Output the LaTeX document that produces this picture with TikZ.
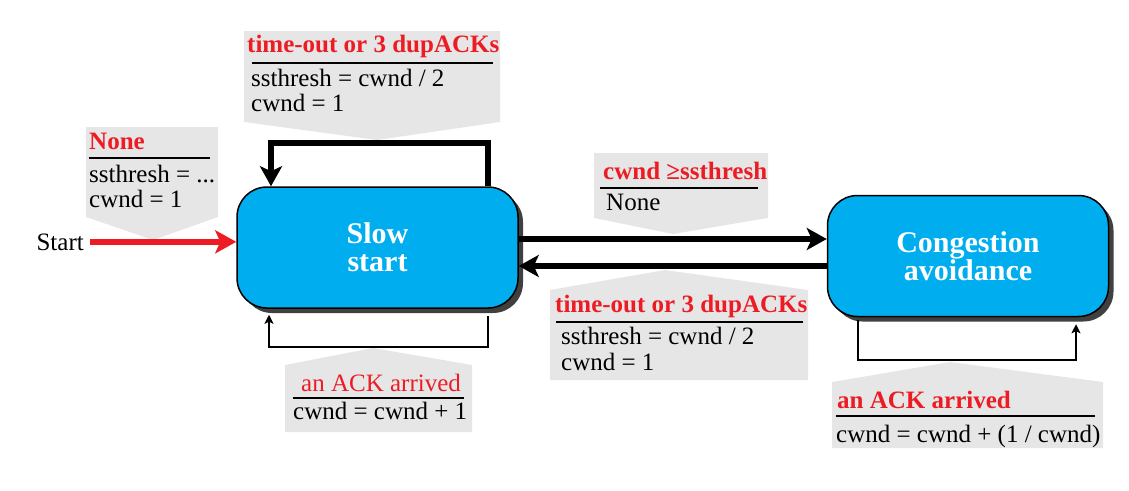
\documentclass[tikz,border=0pt]{standalone}
\usepackage{fontspec}
\setmainfont{Liberation Serif}
\usetikzlibrary{arrows.meta}
\usetikzlibrary{shadows}
\definecolor{tcpblue}{HTML}{00AEEF}
\definecolor{tcpred}{HTML}{ED1C24}
\definecolor{tcpgray}{HTML}{E6E6E6}
\definecolor{tcpshadow}{HTML}{404040}

\begin{document}
\begin{tikzpicture}[x=1pt,y=-1pt,
	state/.style={draw=black, line width=1.5pt, fill=tcpblue, rounded corners=30pt,
		minimum width=281pt, minimum height=121pt, text=white, align=center,
		font=\fontsize{30}{28}\selectfont\bfseries,
		general shadow={fill=tcpshadow, shadow xshift=5pt, shadow yshift=-5pt}},
	callout/.style={fill=tcpgray},
	lbl/.style={anchor=base west, inner sep=0pt, font=\fontsize{25}{25}\selectfont},
	cond/.style={lbl, text=tcpred, font=\fontsize{25}{25}\selectfont\bfseries},
	condlight/.style={lbl, text=tcpred},
	rule/.style={line width=1.5pt},
	bigarrow/.style={line width=6pt, -{Stealth[length=20pt,width=22pt,inset=5pt]}},
	smallarrow/.style={line width=2pt, -{Stealth[length=9pt,width=9pt,inset=2pt]}},
	startarrow/.style={line width=6pt, draw=tcpred, -{Stealth[length=21pt,width=23pt,inset=5pt]}}]
		\useasboundingbox (0,0) rectangle (1129,490);
		\fill[callout] (86,127) -- (218,127) -- (218,217) -- (153,240) -- (86,217) -- cycle;
		\fill[callout] (244,31) -- (500,31) -- (500,122) -- (377,140) -- (244,122) -- cycle;
		\fill[callout] (594,153) -- (768,153) -- (768,218) -- (673,234) -- (594,218) -- cycle;
		\fill[callout] (550,290) -- (665,270) -- (808,290) -- (808,380) -- (550,380) -- cycle;
		\fill[callout] (285,365) -- (373,348) -- (472,365) -- (472,432) -- (285,432) -- cycle;
		\fill[callout] (832,382) -- (950,362) -- (1103,382) -- (1103,448) -- (832,448) -- cycle;
		\node[state] (ss) at (377.5,247.5) {Slow\\start};
		\node[state] (ca) at (968,256) {Congestion\\avoidance};
		\node[lbl, anchor=base east] (start) at (84,250) {Start};
		\draw[startarrow] ([xshift=6pt]start.east) -- (start.east -| ss.west);
		\draw[bigarrow] ([xshift=110.5pt]ss.north) -- ++(0,-43) -| ([xshift=-106.5pt]ss.north);
		\draw[smallarrow] ([xshift=110.5pt,yshift=-7pt]ss.south) -- ++(0,31) -| ([xshift=-108.5pt,yshift=-6pt]ss.south);
		\draw[smallarrow] ([xshift=-110pt,yshift=-3pt]ca.south) -- ++(0,40) -| ([xshift=108pt,yshift=-7pt]ca.south);
		\draw[bigarrow] ([yshift=8.5pt]ss.east) -- ([yshift=8.5pt]ss.east -| ca.west);
		\draw[bigarrow] ([yshift=-10pt]ca.west) -- ([yshift=-10pt]ca.west -| ss.east);
		\node[cond] (initcond) at (89,149) {None};
		\draw[rule] (89,158) -- (210,158);
		\node[lbl] (initssth) at (89,182) {ssthresh = ...};
		\node[lbl] (initcwnd) at (89,207) {cwnd = 1};
		\node[cond] (sslosscond) at (247,52) {time-out or 3 dupACKs};
		\draw[rule] (252,63) -- (493,63);
		\node[lbl] (sslossssth) at (251,86) {ssthresh = cwnd / 2};
		\node[lbl] (sslosscwnd) at (251,111) {cwnd = 1};
		\node[cond] (switchcond) at (603,179) {cwnd ≥ssthresh};
		\draw[rule] (600,188) -- (758,188);
		\node[lbl] (switchact) at (606,210) {None};
		\node[cond] (calosscond) at (555,312) {time-out or 3 dupACKs};
		\draw[rule] (556,322) -- (803,322);
		\node[lbl] (calossssth) at (561,344) {ssthresh = cwnd / 2};
		\node[lbl] (calosscwnd) at (561,370) {cwnd = 1};
		\node[condlight] (ssackcond) at (301,391) {an ACK arrived};
		\draw[rule] (293,398) -- (464,398);
		\node[lbl] (ssackcwnd) at (293,419) {cwnd = cwnd + 1};
		\node[cond] (caackcond) at (837,408) {an ACK arrived};
		\draw[rule] (836,416) -- (1095,416);
		\node[lbl] (caackcwnd) at (836,442) {cwnd = cwnd + (1 / cwnd)};
	\end{tikzpicture}
\end{document}
